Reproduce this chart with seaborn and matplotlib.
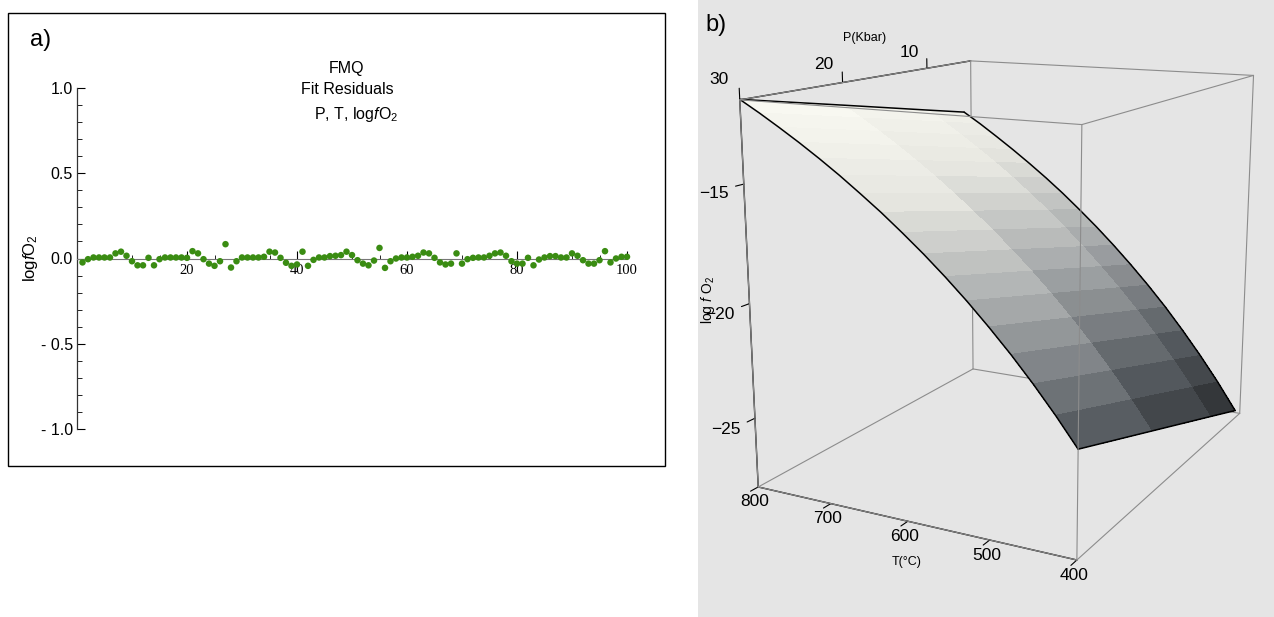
import numpy as np
import pandas as pd
import matplotlib
matplotlib.use("Agg")
import matplotlib.pyplot as plt
import seaborn as sns
from matplotlib.patches import Rectangle
from matplotlib.colors import LinearSegmentedColormap

# Panel a data: FMQ fit residuals (point index vs residual)
point_index = list(range(1, 101))
residuals = [
    -0.023, -0.004, 0.006, 0.006, 0.006, 0.006, 0.030, 0.040, 0.016, -0.016,
    -0.040, -0.040, 0.004, -0.040, -0.004, 0.006, 0.006, 0.006, 0.006, 0.004,
    0.043, 0.030, -0.004, -0.030, -0.043, -0.016, 0.084, -0.053, -0.016, 0.006,
    0.006, 0.006, 0.006, 0.010, 0.040, 0.035, 0.004, -0.025, -0.043, -0.035,
    0.040, -0.043, -0.008, 0.006, 0.006, 0.014, 0.016, 0.020, 0.040, 0.020,
    -0.010, -0.030, -0.040, -0.012, 0.062, -0.055, -0.016, 0.000, 0.006, 0.006,
    0.010, 0.016, 0.035, 0.030, 0.004, -0.023, -0.035, -0.030, 0.030, -0.030,
    -0.004, 0.004, 0.006, 0.006, 0.016, 0.030, 0.035, 0.016, -0.016, -0.030,
    -0.030, 0.004, -0.040, -0.006, 0.006, 0.014, 0.014, 0.006, 0.006, 0.030,
    0.016, -0.010, -0.030, -0.030, -0.010, 0.043, -0.023, 0.000, 0.010, 0.010,
]
y_ticks_a = [1.0, 0.5, 0.0, -0.5, -1.0]
y_ticklabels_a = ["1.0", "0.5", "0.0", "- 0.5", "- 1.0"]
x_ticks_a = [20, 40, 60, 80, 100]

# Panel b data: log fO2 surface over T (C) and P (kbar)
temps = [400, 425, 450, 475, 500, 525, 550, 575, 600, 625, 650, 675, 700, 725, 750, 775, 800]
pressures = [5, 10, 20, 30]
logfo2_p5 = [-27.73, -26.42, -25.21, -24.08, -23.01, -22.02, -21.09, -20.21, -19.38,
             -18.60, -17.85, -17.15, -16.49, -15.86, -15.26, -14.68, -14.14]
logfo2_p10 = [-26.91, -25.64, -24.45, -23.34, -22.30, -21.33, -20.42, -19.56, -18.75,
              -17.98, -17.26, -16.57, -15.92, -15.31, -14.72, -14.16, -13.63]
logfo2_p20 = [-25.28, -24.06, -22.93, -21.87, -20.88, -19.95, -19.08, -18.26, -17.49,
              -16.76, -16.07, -15.41, -14.79, -14.20, -13.64, -13.11, -12.60]
logfo2_p30 = [-23.65, -22.49, -21.41, -20.40, -19.46, -18.57, -17.74, -16.96, -16.23,
              -15.53, -14.88, -14.25, -13.66, -13.10, -12.57, -12.06, -11.58]
t_ticks = [800, 700, 600, 500, 400]
p_ticks = [30, 20, 10]
z_ticks = [-15, -20, -25]

sns.set_style("white")
plt.rcParams["font.family"] = ["Liberation Sans", "DejaVu Sans"]
plt.rcParams["mathtext.fontset"] = "custom"
plt.rcParams["mathtext.rm"] = "Liberation Sans"
plt.rcParams["mathtext.it"] = "Liberation Sans:italic"
for k in ("text.color", "axes.labelcolor", "xtick.color", "ytick.color"):
    plt.rcParams[k] = "black"

W, H = 1274, 617
fig = plt.figure(figsize=(W / 100, H / 100), dpi=100)
fig.patch.set_facecolor("white")

# gray background of panel b
fig.patches.append(Rectangle((698 / W, 0), 1 - 698 / W, 1, transform=fig.transFigure,
                             facecolor="#e5e5e5", edgecolor="none", zorder=-5))
# frame of panel a
fig.patches.append(Rectangle((8 / W, (H - 466) / H), 657 / W, 453 / H, transform=fig.transFigure,
                             facecolor="none", edgecolor="black", lw=1.0, zorder=-5))

# ---------------- panel a ----------------
ax = fig.add_axes([77 / W, (H - 429) / H, 550 / W, 341 / H])
ax.set_facecolor("none")
df = pd.DataFrame({"i": point_index, "r": residuals})
sns.scatterplot(data=df, x="i", y="r", ax=ax, color="#3a8c12", s=22,
                edgecolor="none", zorder=3, clip_on=False)
ax.set_xlim(0, 100)
ax.set_ylim(-1, 1)
ax.spines["right"].set_visible(False)
ax.spines["top"].set_visible(False)
ax.spines["bottom"].set_position(("data", 0))
ax.spines["bottom"].set_color("#777777")
ax.spines["left"].set_color("#333333")
ax.spines["left"].set_linewidth(0.9)
ax.set_xticks(x_ticks_a)
ax.set_xticks(np.arange(5, 100, 5), minor=True)
ax.set_xticklabels([str(t) for t in x_ticks_a], family="Liberation Serif", fontsize=10.5)
ax.set_yticks(y_ticks_a)
ax.set_yticks(np.arange(-1.0, 1.01, 0.1), minor=True)
ax.set_yticklabels(y_ticklabels_a, fontsize=11.5)
ax.tick_params(which="both", bottom=True, left=True, color="black")
ax.tick_params(axis="x", which="major", direction="in", length=6, width=0.8, pad=4)
ax.tick_params(axis="x", which="minor", direction="in", length=3, width=0.6)
ax.tick_params(axis="y", which="major", direction="in", length=6, width=0.8, pad=3)
ax.tick_params(axis="y", which="minor", direction="in", length=3.5, width=0.6)
ax.set_xlabel("")
ax.set_ylabel("")

fig.text(30 / W, 1 - 40 / H, "a)", fontsize=17, ha="left", va="center")
fig.text(30 / W, 1 - 258 / H, r"log$\mathit{f}$O$_2$", fontsize=12, rotation=90,
         ha="center", va="center")
fig.text(347 / W, 1 - 68 / H, "FMQ", fontsize=11.5, ha="center", va="center")
fig.text(347 / W, 1 - 90 / H, "Fit Residuals", fontsize=11.5, ha="center", va="center")
fig.text(356 / W, 1 - 114 / H, r"P, T, log$\mathit{f}$O$_2$", fontsize=11.5,
         ha="center", va="center")

# ---------------- panel b ----------------
ax3 = fig.add_axes([720 / W, 0.045, 1 - 698 / W, 1], projection="3d")
ax3.set_facecolor("none")
ax3.computed_zorder = False
TT, PP = np.meshgrid(temps, pressures)
ZZ = np.array([logfo2_p5, logfo2_p10, logfo2_p20, logfo2_p30])
zmin, zmax = -28.1, -11.6
tmin, tmax = 400, 800
pmin, pmax = 4, 30
cmap = LinearSegmentedColormap.from_list(
    "shade", ["#232528", "#585d62", "#a3a6a8", "#e6e6e0", "#fcfcf4"])
ax3.plot_surface(TT, PP, ZZ, cmap=cmap, vmin=-28, vmax=-11.6, linewidth=0,
                 antialiased=False, shade=False, zorder=2)
# surface outline
kw_out = dict(color="black", lw=1.1, zorder=3)
ax3.plot(temps, [pressures[0]] * len(temps), logfo2_p5, **kw_out)
ax3.plot(temps, [pressures[-1]] * len(temps), logfo2_p30, **kw_out)
ax3.plot([temps[0]] * len(pressures), pressures, ZZ[:, 0], **kw_out)
ax3.plot([temps[-1]] * len(pressures), pressures, ZZ[:, -1], **kw_out)

# bounding box edges (back ones under the surface, front ones over it)
box_c = "#8c8c8c"
edges = []
for z in (zmin, zmax):
    edges.append(([tmin, tmax], [pmin, pmin], [z, z]))
    edges.append(([tmin, tmax], [pmax, pmax], [z, z]))
    for t in (tmin, tmax):
        edges.append(([t, t], [pmin, pmax], [z, z]))
for t in (tmin, tmax):
    for p in (pmin, pmax):
        edges.append(([t, t], [p, p], [zmin, zmax]))
for xs, ys, zs in edges:
    back = (ys[0] == pmin and ys[1] == pmin)
    ax3.plot(xs, ys, zs, color=box_c, lw=0.8, zorder=1 if back else 4)

ax3.set_xlim(tmin, tmax)
ax3.set_ylim(pmin, pmax)
ax3.set_zlim(zmin, zmax)
ax3.set_box_aspect((1.14, 1.4, 1.25), zoom=1.1)
ax3.set_proj_type("persp", focal_length=0.45)
ax3.view_init(elev=14, azim=118)
ax3.grid(False)
for a in (ax3.xaxis, ax3.yaxis, ax3.zaxis):
    a.pane.fill = False
    a.pane.set_edgecolor("none")
    a.line.set_color("black")
    a.line.set_linewidth(1.0)
    a._axinfo["tick"]["inward_factor"] = 0.35
    a._axinfo["tick"]["outward_factor"] = 0.0
ax3.set_xticks(t_ticks)
ax3.set_yticks(p_ticks)
ax3.set_zticks(z_ticks)
ax3.set_zticklabels(["\u221215", "\u221220", "\u221225"])
ax3.tick_params(labelsize=12.5)
ax3.tick_params(axis="x", pad=-5)
ax3.tick_params(axis="y", pad=6)
ax3.tick_params(axis="z", pad=3)
ax3.yaxis.set_ticks_position("upper")
ax3.zaxis.set_ticks_position("upper")
ax3.set_xlabel("")
ax3.set_ylabel("")
ax3.set_zlabel("")
fig.text(865 / W, 1 - 38 / H, "P(Kbar)", fontsize=9, ha="center", va="center")
fig.text(907 / W, 1 - 562 / H, "T(\u00b0C)", fontsize=9, ha="center", va="center")
fig.text(708 / W, 1 - 300 / H, r"log $\mathit{f}$ O$_2$", fontsize=10, rotation=90,
         ha="center", va="center")
fig.text(705 / W, 1 - 25 / H, "b)", fontsize=17, ha="left", va="center")

fig.savefig("out.png", dpi=100)
